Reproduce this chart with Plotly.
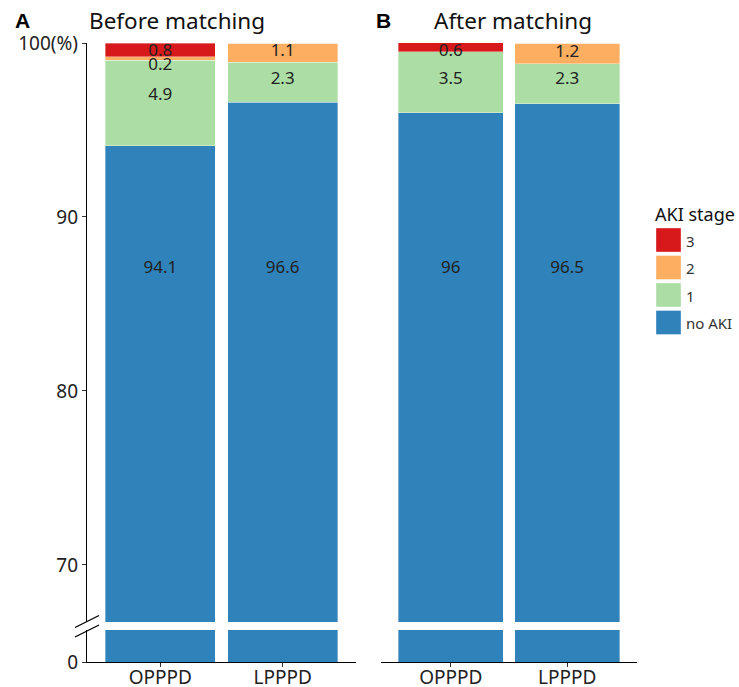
import plotly.graph_objects as go

# ---------------- data ----------------
groups = ["OPPPD", "LPPPD"]
stages = ["no AKI", "1", "2", "3"]
legend_order = ["3", "2", "1", "no AKI"]
panel_titles = ["Before matching", "After matching"]
panel_letters = ["A", "B"]

before_no_aki = [94.1, 96.6]
before_stage1 = [4.9, 2.3]
before_stage2 = [0.2, 1.1]
before_stage3 = [0.8, 0.0]

after_no_aki = [96.0, 96.5]
after_stage1 = [3.5, 2.3]
after_stage2 = [0.0, 1.2]
after_stage3 = [0.6, 0.0]

# label heights (in %), per stage, per group
before_label_y = {"no AKI": [87.0, 87.0], "1": [96.95, 97.9], "2": [98.7, 99.5], "3": [99.5, None]}
after_label_y = {"no AKI": [87.0, 87.0], "1": [97.9, 97.9], "2": [None, 99.45], "3": [99.47, None]}

y_ticks = [70, 80, 90, 100]
y_ticktext = ["70", "80", "90", "100(%)"]

colors = {"3": "#D7191C", "2": "#FDAE61", "1": "#ABDDA4", "no AKI": "#2F83BA"}

W, H = 739, 687
FONT = "Noto Sans"


def px(x):
    return x / W


def py(y):
    return 1 - y / H


panels = [
    {"vals": {"no AKI": before_no_aki, "1": before_stage1, "2": before_stage2, "3": before_stage3},
     "labels": before_label_y, "xd": [px(87), px(356)], "up": ("x", "y"), "low": ("x3", "y3")},
    {"vals": {"no AKI": after_no_aki, "1": after_stage1, "2": after_stage2, "3": after_stage3},
     "labels": after_label_y, "xd": [px(381), px(637)], "up": ("x2", "y2"), "low": ("x4", "y4")},
]

fig = go.Figure()

for p in panels:
    for (xa, ya) in (p["up"], p["low"]):
        for st in stages:
            fig.add_trace(go.Bar(
                x=groups, y=p["vals"][st], xaxis=xa, yaxis=ya,
                marker=dict(color=colors[st], line=dict(width=0.6, color="rgba(255,255,255,0.6)")),
                name=st, showlegend=False, hoverinfo="skip"))
    # labels
    lx, ly, lt = [], [], []
    for st in stages:
        for i, g in enumerate(groups):
            v = p["vals"][st][i]
            yy = p["labels"][st][i]
            if v > 0 and yy is not None:
                lx.append(g)
                ly.append(yy)
                lt.append(f"{v:g}")
    xa, ya = p["up"]
    fig.add_trace(go.Scatter(x=lx, y=ly, text=lt, mode="text", xaxis=xa, yaxis=ya,
                             textfont=dict(size=17, color="#222222", family=FONT),
                             showlegend=False, hoverinfo="skip", cliponaxis=False))

up_dom = [py(622), py(43)]
low_dom = [py(662), py(630)]
y_up_range = [66.72, 100]
y_low_range = [0, 1.84]

xcommon = dict(type="category", categoryorder="array", categoryarray=groups, automargin=False,
               range=[-0.6, 1.6], showgrid=False, zeroline=False, fixedrange=True)

layout = dict(
    width=W, height=H, margin=dict(l=0, r=0, t=0, b=0, pad=0, autoexpand=False),
    plot_bgcolor="white", paper_bgcolor="white",
    barmode="stack", bargap=0.1,
    font=dict(family=FONT, color="#333333"),
    showlegend=False,
)

tickfont = dict(size=19, color="#222222", family=FONT)

# upper x axes (hidden)
layout["xaxis"] = dict(xcommon, domain=panels[0]["xd"], anchor="y", showticklabels=False, showline=False, ticks="")
layout["xaxis2"] = dict(xcommon, domain=panels[1]["xd"], anchor="y2", showticklabels=False, showline=False, ticks="")
# lower x axes
for k, p, a in (("xaxis3", panels[0], "y3"), ("xaxis4", panels[1], "y4")):
    layout[k] = dict(xcommon, domain=p["xd"], anchor=a, showline=True, linecolor="black", linewidth=1.3,
                     ticks="outside", ticklen=4, tickcolor="#333333", tickwidth=1.1, tickfont=tickfont,
                     ticklabelstandoff=-6)

ycommon = dict(showgrid=False, zeroline=False, fixedrange=True, automargin=False)
layout["yaxis"] = dict(ycommon, domain=up_dom, anchor="x", range=y_up_range, tickvals=y_ticks, ticktext=y_ticktext,
                       showline=True, linecolor="black", linewidth=1.3, ticks="outside", ticklen=4,
                       tickcolor="#333333", tickwidth=1.1, tickfont=tickfont)
layout["yaxis2"] = dict(ycommon, domain=up_dom, anchor="x2", range=y_up_range, visible=False)
layout["yaxis3"] = dict(ycommon, domain=low_dom, anchor="x3", range=y_low_range, tickvals=[0], ticktext=["0"],
                        showline=True, linecolor="black", linewidth=1.3, ticks="outside", ticklen=4,
                        tickcolor="#333333", tickwidth=1.1, tickfont=tickfont)
layout["yaxis4"] = dict(ycommon, domain=low_dom, anchor="x4", range=y_low_range, visible=False)

annotations = []
# panel letters and titles
for letter, lx0 in zip(panel_letters, (13, 374)):
    annotations.append(dict(text=f"<b>{letter}</b>", x=px(lx0), y=py(21), xref="paper", yref="paper",
                            xanchor="left", yanchor="middle", showarrow=False,
                            font=dict(size=21, color="black", family="Liberation Sans")))
for title, tx0 in zip(panel_titles, (87, 432)):
    annotations.append(dict(text=title, x=px(tx0), y=py(21), xref="paper", yref="paper", xanchor="left",
                            yanchor="middle", showarrow=False, font=dict(size=22.5, color="#111111", family=FONT)))

# legend (drawn manually for large keys)
shapes = []
annotations.append(dict(text="AKI stage", x=px(653), y=py(214), xref="paper", yref="paper", xanchor="left",
                        yanchor="middle", showarrow=False, font=dict(size=18, color="#111111", family=FONT)))
key_top = 228
key_step = 27.5
for i, st in enumerate(legend_order):
    t = key_top + i * key_step
    shapes.append(dict(type="rect", xref="paper", yref="paper", x0=px(656), x1=px(681), y0=py(t + 24), y1=py(t),
                       fillcolor=colors[st], line=dict(width=0.6, color="rgba(255,255,255,0.6)")))
    annotations.append(dict(text=st, x=px(684), y=py(t + 12.5), xref="paper", yref="paper", xanchor="left",
                            yanchor="middle", showarrow=False, font=dict(size=15, color="#333333", family=FONT)))

# axis break marks
for cy in (621.5, 631):
    shapes.append(dict(type="line", xref="paper", yref="paper", x0=px(75), y0=py(cy + 6), x1=px(99), y1=py(cy - 6),
                       line=dict(color="black", width=1.3)))

layout["annotations"] = annotations
layout["shapes"] = shapes

fig.update_layout(**layout)
fig.write_html("out.html", config={"displayModeBar": False},
               post_script="document.body.style.margin='0';document.body.style.padding='0';"
                           "document.body.style.overflow='hidden';")
